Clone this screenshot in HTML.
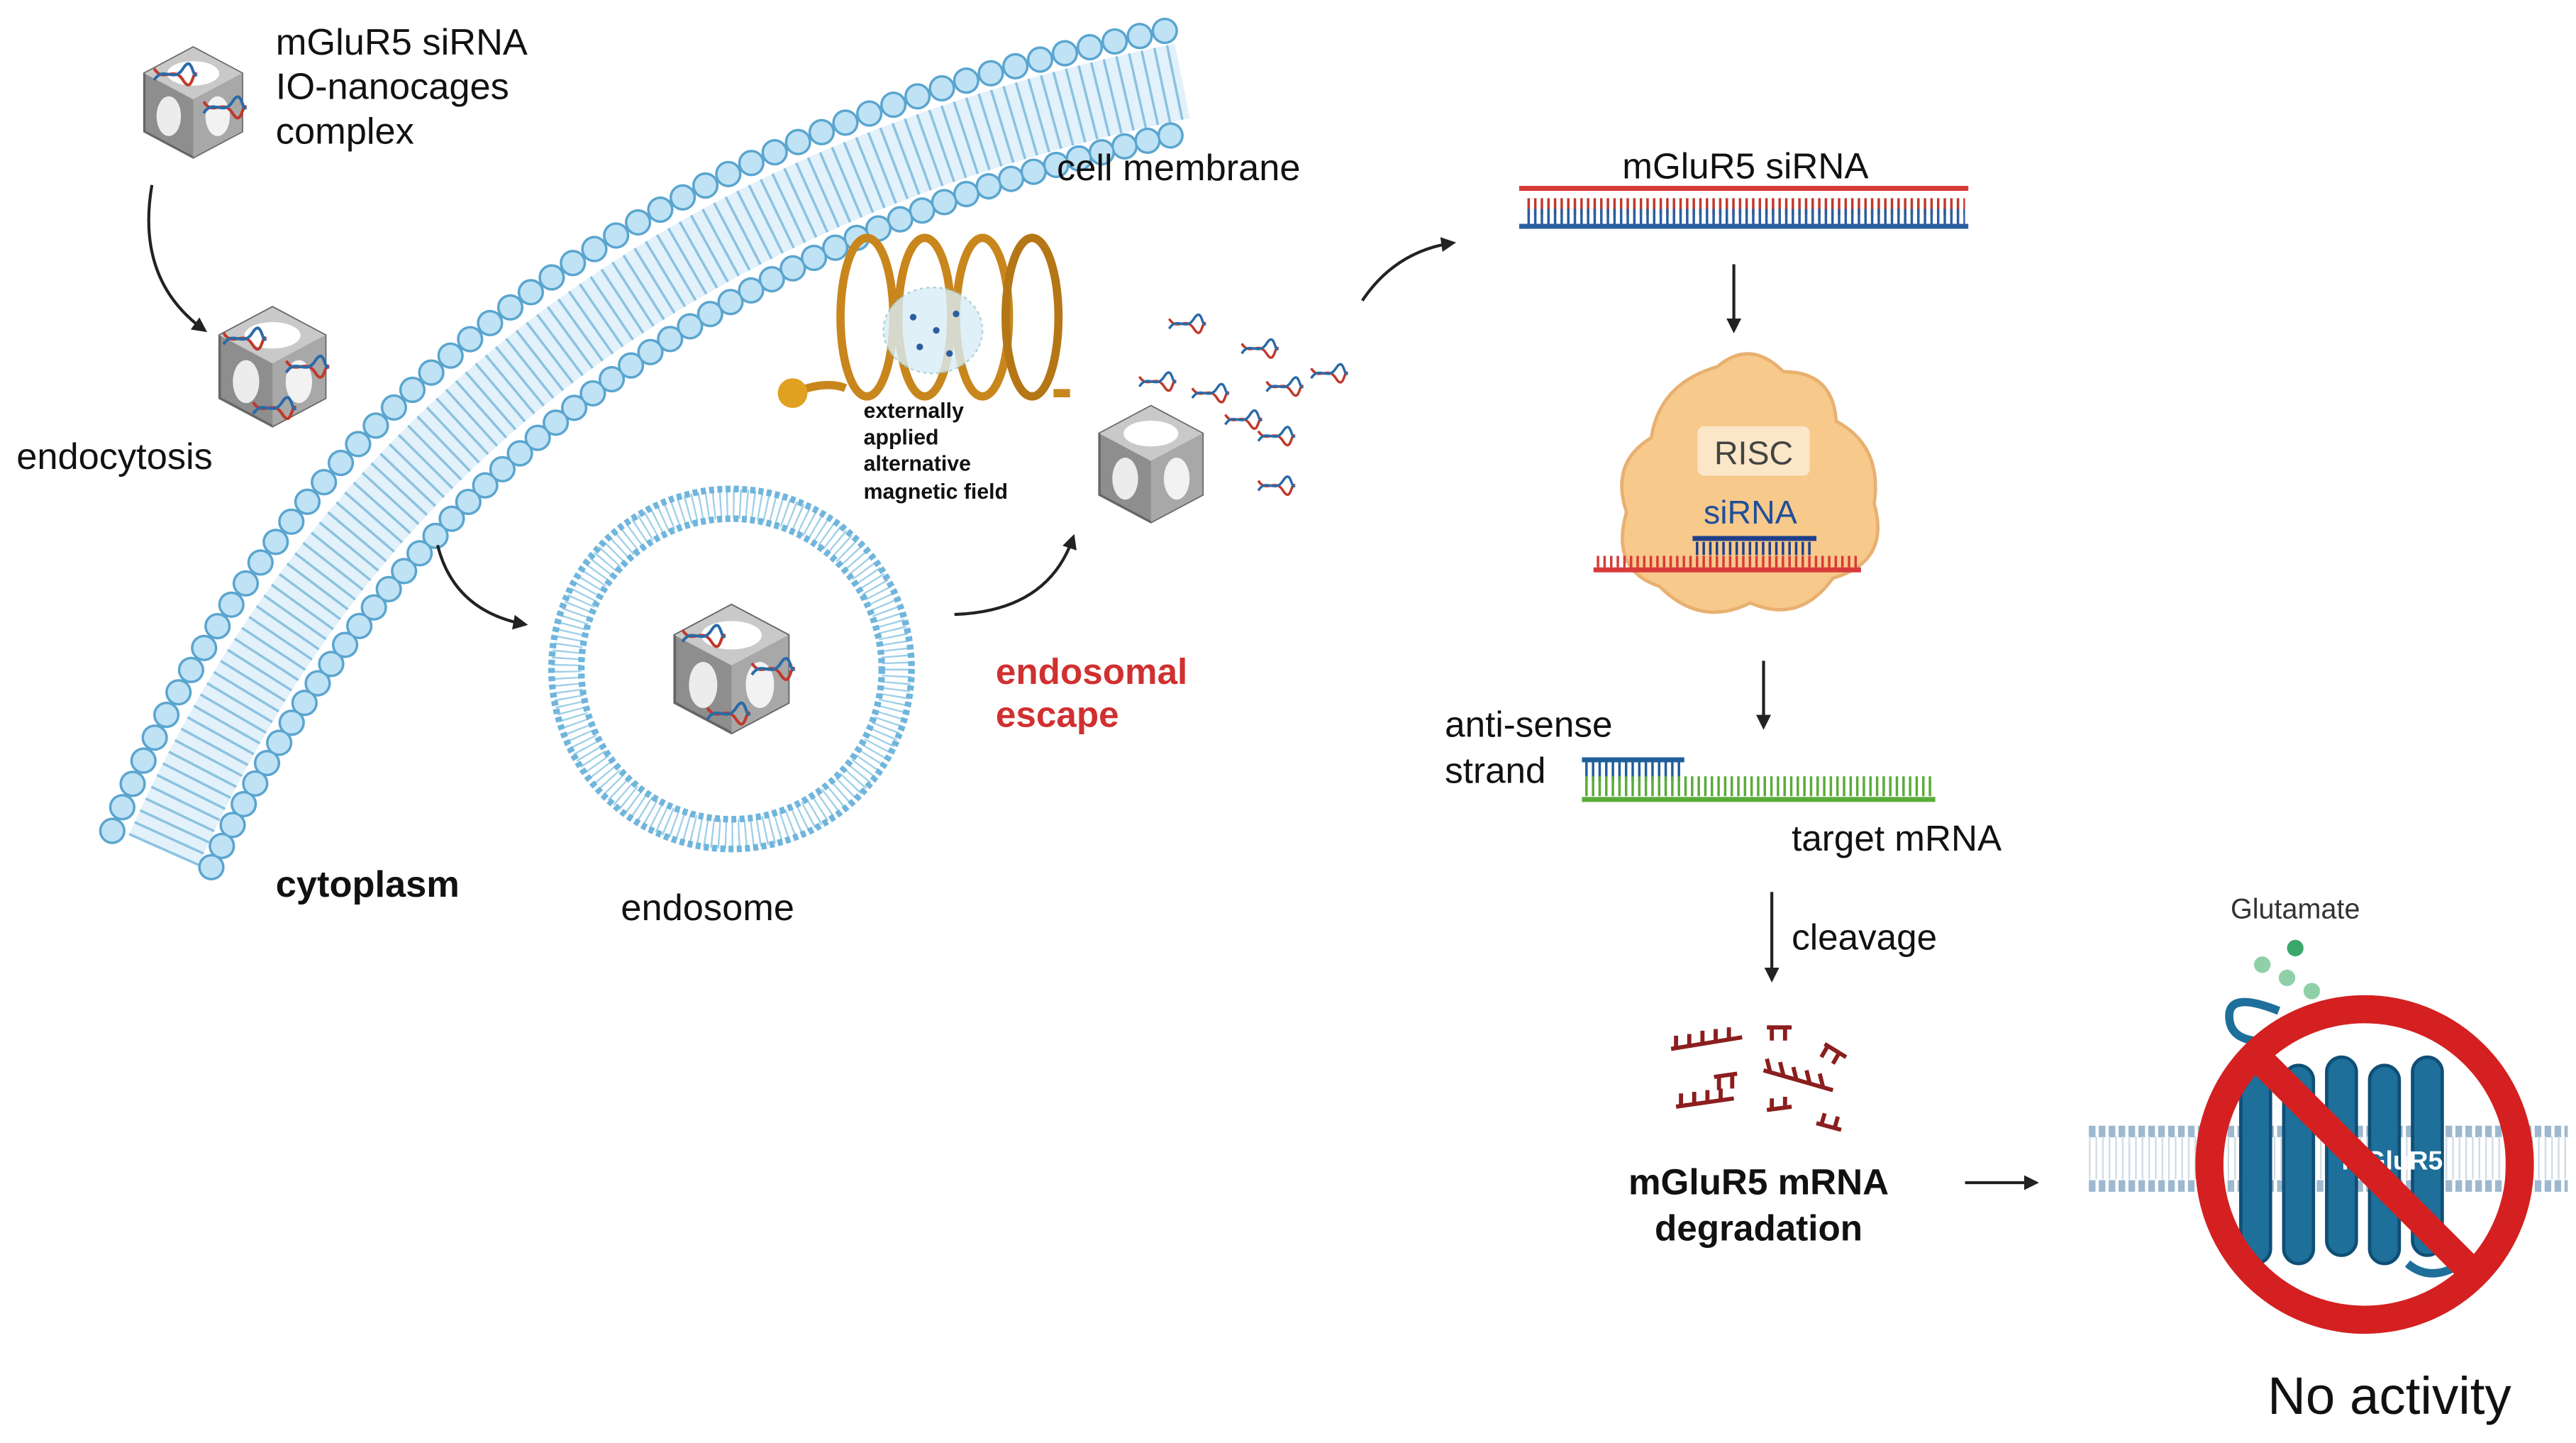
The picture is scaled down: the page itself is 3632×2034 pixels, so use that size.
<!DOCTYPE html>
<html><head><meta charset="utf-8"><style>
html,body{margin:0;padding:0;background:#fff;}
svg{display:block;}
text{font-family:"Liberation Sans",sans-serif;}
</style></head><body>
<svg width="3632" height="2034" viewBox="0 0 1560 873.6" xmlns="http://www.w3.org/2000/svg">
<defs>
<marker id="ah" viewBox="0 0 10 10" refX="8" refY="5" markerWidth="5" markerHeight="5" orient="auto"><path d="M0,0 L10,5 L0,10 z" fill="#222"/></marker>
<symbol id="cube" viewBox="-40 -40 80 80" overflow="visible">
<path d="M0,-36 L32,-19 L32,19 L0,36 L-32,19 L-32,-19 Z" fill="#8e8e8e" stroke="#666" stroke-width="1.5"/>
<path d="M0,-36 L32,-19 L0,-2 L-32,-19 Z" fill="#c9c9c9"/>
<path d="M0,-2 L32,-19 L32,19 L0,36 Z" fill="#a8a8a8"/>
<ellipse cx="0" cy="-19" rx="17" ry="8" fill="#fff"/>
<ellipse cx="16" cy="9" rx="8" ry="13" fill="#f2f2f2"/>
<ellipse cx="-16" cy="9" rx="8" ry="13" fill="#ececec"/>
</symbol>
<symbol id="dna" viewBox="-12 -6 24 12" overflow="visible">
<path d="M-10,-3 C-5,5 0,-5 5,3 S10,-3 12,0" fill="none" stroke="#c0392b" stroke-width="1.5"/>
<path d="M-10,3 C-5,-5 0,5 5,-3 S10,3 12,0" fill="none" stroke="#2a6aa8" stroke-width="1.5"/>
</symbol>
</defs>

<!-- cell membrane -->
<g fill="none">
<path d="M99,515 Q265,140 716,49" stroke="#e2f1fa" stroke-width="46"/>
<path d="M99,515 Q265,140 716,49" stroke="#8cc2e0" stroke-width="46" stroke-dasharray="1.5 6.2"/>
<path d="M68,503 Q230,110 714,17" stroke="#5aa5cf" stroke-width="16" stroke-linecap="round" stroke-dasharray="0 15.5"/>
<path d="M68,503 Q230,110 714,17" stroke="#bfe2f5" stroke-width="13" stroke-linecap="round" stroke-dasharray="0 15.5"/>
<path d="M128,525 Q300,170 718,80" stroke="#5aa5cf" stroke-width="16" stroke-linecap="round" stroke-dasharray="0 14.3"/>
<path d="M128,525 Q300,170 718,80" stroke="#bfe2f5" stroke-width="13" stroke-linecap="round" stroke-dasharray="0 14.3"/>
</g>

<!-- endosome -->
<g fill="none">
<circle cx="443" cy="405" r="100" stroke="#9fcfe8" stroke-width="18" stroke-dasharray="1 3"/>
<circle cx="443" cy="405" r="109" stroke="#6fb5dc" stroke-width="4" stroke-dasharray="3 2"/>
<circle cx="443" cy="405" r="91" stroke="#6fb5dc" stroke-width="4" stroke-dasharray="3 2"/>
</g>

<!-- cubes -->
<use href="#cube" x="80" y="25" width="74" height="74"/>
<use href="#dna" x="90" y="38" width="30" height="14"/>
<use href="#dna" x="120" y="58" width="30" height="14"/>
<use href="#cube" x="125" y="182" width="80" height="80"/>
<use href="#dna" x="132" y="198" width="30" height="14"/>
<use href="#dna" x="170" y="215" width="30" height="14"/>
<use href="#dna" x="150" y="240" width="30" height="14"/>
<use href="#cube" x="400" y="362" width="86" height="86"/>
<use href="#dna" x="410" y="378" width="30" height="14"/>
<use href="#dna" x="452" y="398" width="30" height="14"/>
<use href="#dna" x="425" y="425" width="30" height="14"/>
<use href="#cube" x="658" y="242" width="78" height="78"/>

<!-- scattered siRNA -->
<use href="#dna" x="706" y="190" width="24" height="12"/>
<use href="#dna" x="688" y="225" width="24" height="12"/>
<use href="#dna" x="750" y="205" width="24" height="12"/>
<use href="#dna" x="720" y="232" width="24" height="12"/>
<use href="#dna" x="765" y="228" width="24" height="12"/>
<use href="#dna" x="792" y="220" width="24" height="12"/>
<use href="#dna" x="740" y="248" width="24" height="12"/>
<use href="#dna" x="760" y="258" width="24" height="12"/>
<use href="#dna" x="760" y="288" width="24" height="12"/>

<!-- coil -->
<g fill="none" stroke="#c8861c" stroke-width="5">
<ellipse cx="525" cy="192" rx="16" ry="48"/>
<ellipse cx="560" cy="192" rx="16" ry="48"/>
<ellipse cx="595" cy="192" rx="16" ry="48"/>
<ellipse cx="625" cy="192" rx="16" ry="48" stroke="#b57616"/>
<path d="M480,238 Q500,230 512,235"/>
<path d="M638,238 L648,238"/>
</g>
<ellipse cx="565" cy="200" rx="30" ry="26" fill="#d9edf7" opacity="0.8" stroke="#9cc" stroke-dasharray="2 2"/>
<g fill="#2a5ea0"><circle cx="553" cy="192" r="2"/><circle cx="567" cy="200" r="2"/><circle cx="579" cy="190" r="2"/><circle cx="557" cy="210" r="2"/><circle cx="575" cy="214" r="2"/></g>
<circle cx="480" cy="238" r="9" fill="#e0a020"/>
<g font-size="13" font-weight="bold" fill="#111">
<text x="523" y="253">externally</text><text x="523" y="269">applied</text><text x="523" y="285">alternative</text><text x="523" y="302">magnetic field</text>
</g>

<!-- arrows -->
<g fill="none" stroke="#222" stroke-width="1.8" marker-end="url(#ah)">
<path d="M92,112 Q82,170 124,200"/>
<path d="M265,330 Q275,370 318,378"/>
<path d="M578,372 Q635,370 650,325"/>
<path d="M825,182 Q845,152 880,147"/>
<path d="M1050,160 L1050,200"/>
<path d="M1068,400 L1068,440"/>
<path d="M1073,540 L1073,593"/>
<path d="M1190,716 L1233,716"/>
</g>

<!-- left texts -->
<g font-size="22.5" fill="#111">
<text x="167" y="33">mGluR5 siRNA</text>
<text x="167" y="60">IO-nanocages</text>
<text x="167" y="87">complex</text>
<text x="10" y="284">endocytosis</text>
<text x="640" y="109">cell membrane</text>
<text x="376" y="557">endosome</text>
<text x="167" y="543" font-weight="bold">cytoplasm</text>
</g>
<g font-size="22" font-weight="bold" fill="#d03030">
<text x="603" y="414">endosomal</text><text x="603" y="440">escape</text>
</g>

<!-- siRNA duplex -->
<text x="1057" y="108" font-size="22" text-anchor="middle" fill="#111">mGluR5 siRNA</text>
<line x1="925" y1="125" x2="1190" y2="125" stroke="#c0392b" stroke-width="10" stroke-dasharray="1.5 2.5"/>
<line x1="920" y1="114" x2="1192" y2="114" stroke="#d83a3a" stroke-width="3"/>
<line x1="920" y1="137" x2="1192" y2="137" stroke="#2a5ea0" stroke-width="3"/>
<line x1="925" y1="131" x2="1190" y2="131" stroke="#2a5ea0" stroke-width="9" stroke-dasharray="1.5 2.5"/>

<!-- RISC -->
<path d="M1040,222 Q1060,205 1080,225 Q1110,225 1112,255 Q1140,270 1135,305 Q1145,340 1110,350 Q1090,378 1060,365 Q1030,380 1005,355 Q975,345 985,310 Q975,280 1000,265 Q1005,232 1040,222 Z" fill="#f7c98a" stroke="#e8b070" stroke-width="2"/>
<rect x="1028" y="258" width="68" height="30" rx="4" fill="#fbe6c8"/>
<text x="1062" y="281" font-size="20" text-anchor="middle" fill="#444">RISC</text>
<text x="1060" y="317" font-size="20" text-anchor="middle" fill="#1f4f9a">siRNA</text>
<line x1="1025" y1="326" x2="1100" y2="326" stroke="#1f3f8a" stroke-width="3"/>
<line x1="1027" y1="332" x2="1098" y2="332" stroke="#1f3f8a" stroke-width="8" stroke-dasharray="1.5 2.5"/>
<line x1="967" y1="340" x2="1125" y2="340" stroke="#d83a3a" stroke-width="7" stroke-dasharray="1.5 2.5"/>
<line x1="965" y1="345" x2="1127" y2="345" stroke="#d83a3a" stroke-width="3"/>

<!-- antisense + mRNA -->
<g font-size="22" fill="#111">
<text x="875" y="446">anti-sense</text><text x="875" y="474">strand</text>
<text x="1085" y="515">target mRNA</text>
<text x="1085" y="575">cleavage</text>
</g>
<line x1="958" y1="460" x2="1020" y2="460" stroke="#1f5f9a" stroke-width="3"/>
<line x1="960" y1="467" x2="1018" y2="467" stroke="#1f5f9a" stroke-width="12" stroke-dasharray="1.5 2.5"/>
<line x1="960" y1="476" x2="1170" y2="476" stroke="#5aab3a" stroke-width="12" stroke-dasharray="1.5 2.5"/>
<line x1="958" y1="484" x2="1172" y2="484" stroke="#5aab3a" stroke-width="3"/>

<!-- fragments -->
<g stroke="#8b1e1e" stroke-width="2.5" fill="none">
<path d="M1012,635 L1055,628 M1015,635 l0,-8 M1023,634 l0,-8 M1031,632 l0,-8 M1039,631 l0,-8 M1047,630 l0,-8"/>
<path d="M1070,622 L1085,622 M1073,622 l0,8 M1081,622 l0,8"/>
<path d="M1105,632 L1118,640 M1107,633 l-4,7 M1114,637 l-4,7"/>
<path d="M1038,652 L1052,650 M1041,652 l0,8 M1049,651 l0,8"/>
<path d="M1068,648 L1110,660 M1072,649 l-2,-8 M1080,651 l-2,-8 M1088,654 l-2,-8 M1096,656 l-2,-8 M1104,658 l-2,-8"/>
<path d="M1015,670 L1050,665 M1018,670 l0,-8 M1026,669 l0,-8 M1034,668 l0,-8 M1042,667 l0,-8"/>
<path d="M1070,672 L1085,670 M1073,672 l0,-7 M1081,671 l0,-7"/>
<path d="M1100,680 L1115,684 M1103,681 l2,-7 M1111,683 l2,-7"/>
</g>
<g font-size="22" font-weight="bold" fill="#111" text-anchor="middle">
<text x="1065" y="723">mGluR5 mRNA</text><text x="1065" y="751">degradation</text>
</g>

<!-- receptor membrane -->
<g fill="none">
<line x1="1265" y1="685" x2="1555" y2="685" stroke="#9db8cf" stroke-width="7" stroke-dasharray="4 2"/>
<line x1="1265" y1="718" x2="1555" y2="718" stroke="#9db8cf" stroke-width="7" stroke-dasharray="4 2"/>
<line x1="1265" y1="701" x2="1555" y2="701" stroke="#cfdbe6" stroke-width="26" stroke-dasharray="1 3"/>
</g>
<text x="1390" y="556" font-size="17" text-anchor="middle" fill="#333">Glutamate</text>
<g fill="#3aa86a"><circle cx="1390" cy="574" r="5"/><circle cx="1370" cy="584" r="5" fill="#8fd0a8"/><circle cx="1385" cy="592" r="5" fill="#8fd0a8"/><circle cx="1400" cy="600" r="5" fill="#8fd0a8"/></g>
<path d="M1380,612 Q1350,600 1350,615 Q1350,628 1365,630" fill="none" stroke="#1e6f9a" stroke-width="5"/>
<g fill="#1e6f9a" stroke="#0e4f76" stroke-width="2">
<rect x="1357" y="635" width="18" height="130" rx="9"/>
<rect x="1383" y="645" width="18" height="120" rx="9"/>
<rect x="1409" y="640" width="18" height="120" rx="9"/>
<rect x="1435" y="645" width="18" height="120" rx="9"/>
<rect x="1461" y="640" width="18" height="120" rx="9"/>
</g>
<path d="M1458,765 Q1470,775 1485,768" fill="none" stroke="#1e6f9a" stroke-width="5"/>
<text x="1418" y="708" font-size="16" font-weight="bold" fill="#fff">mGluR5</text>
<circle cx="1432" cy="705" r="94" fill="none" stroke="#d42020" stroke-width="17"/>
<line x1="1366" y1="639" x2="1498" y2="771" stroke="#d42020" stroke-width="17"/>
<text x="1447" y="856" font-size="32" text-anchor="middle" fill="#111">No activity</text>
</svg>
</body></html>
